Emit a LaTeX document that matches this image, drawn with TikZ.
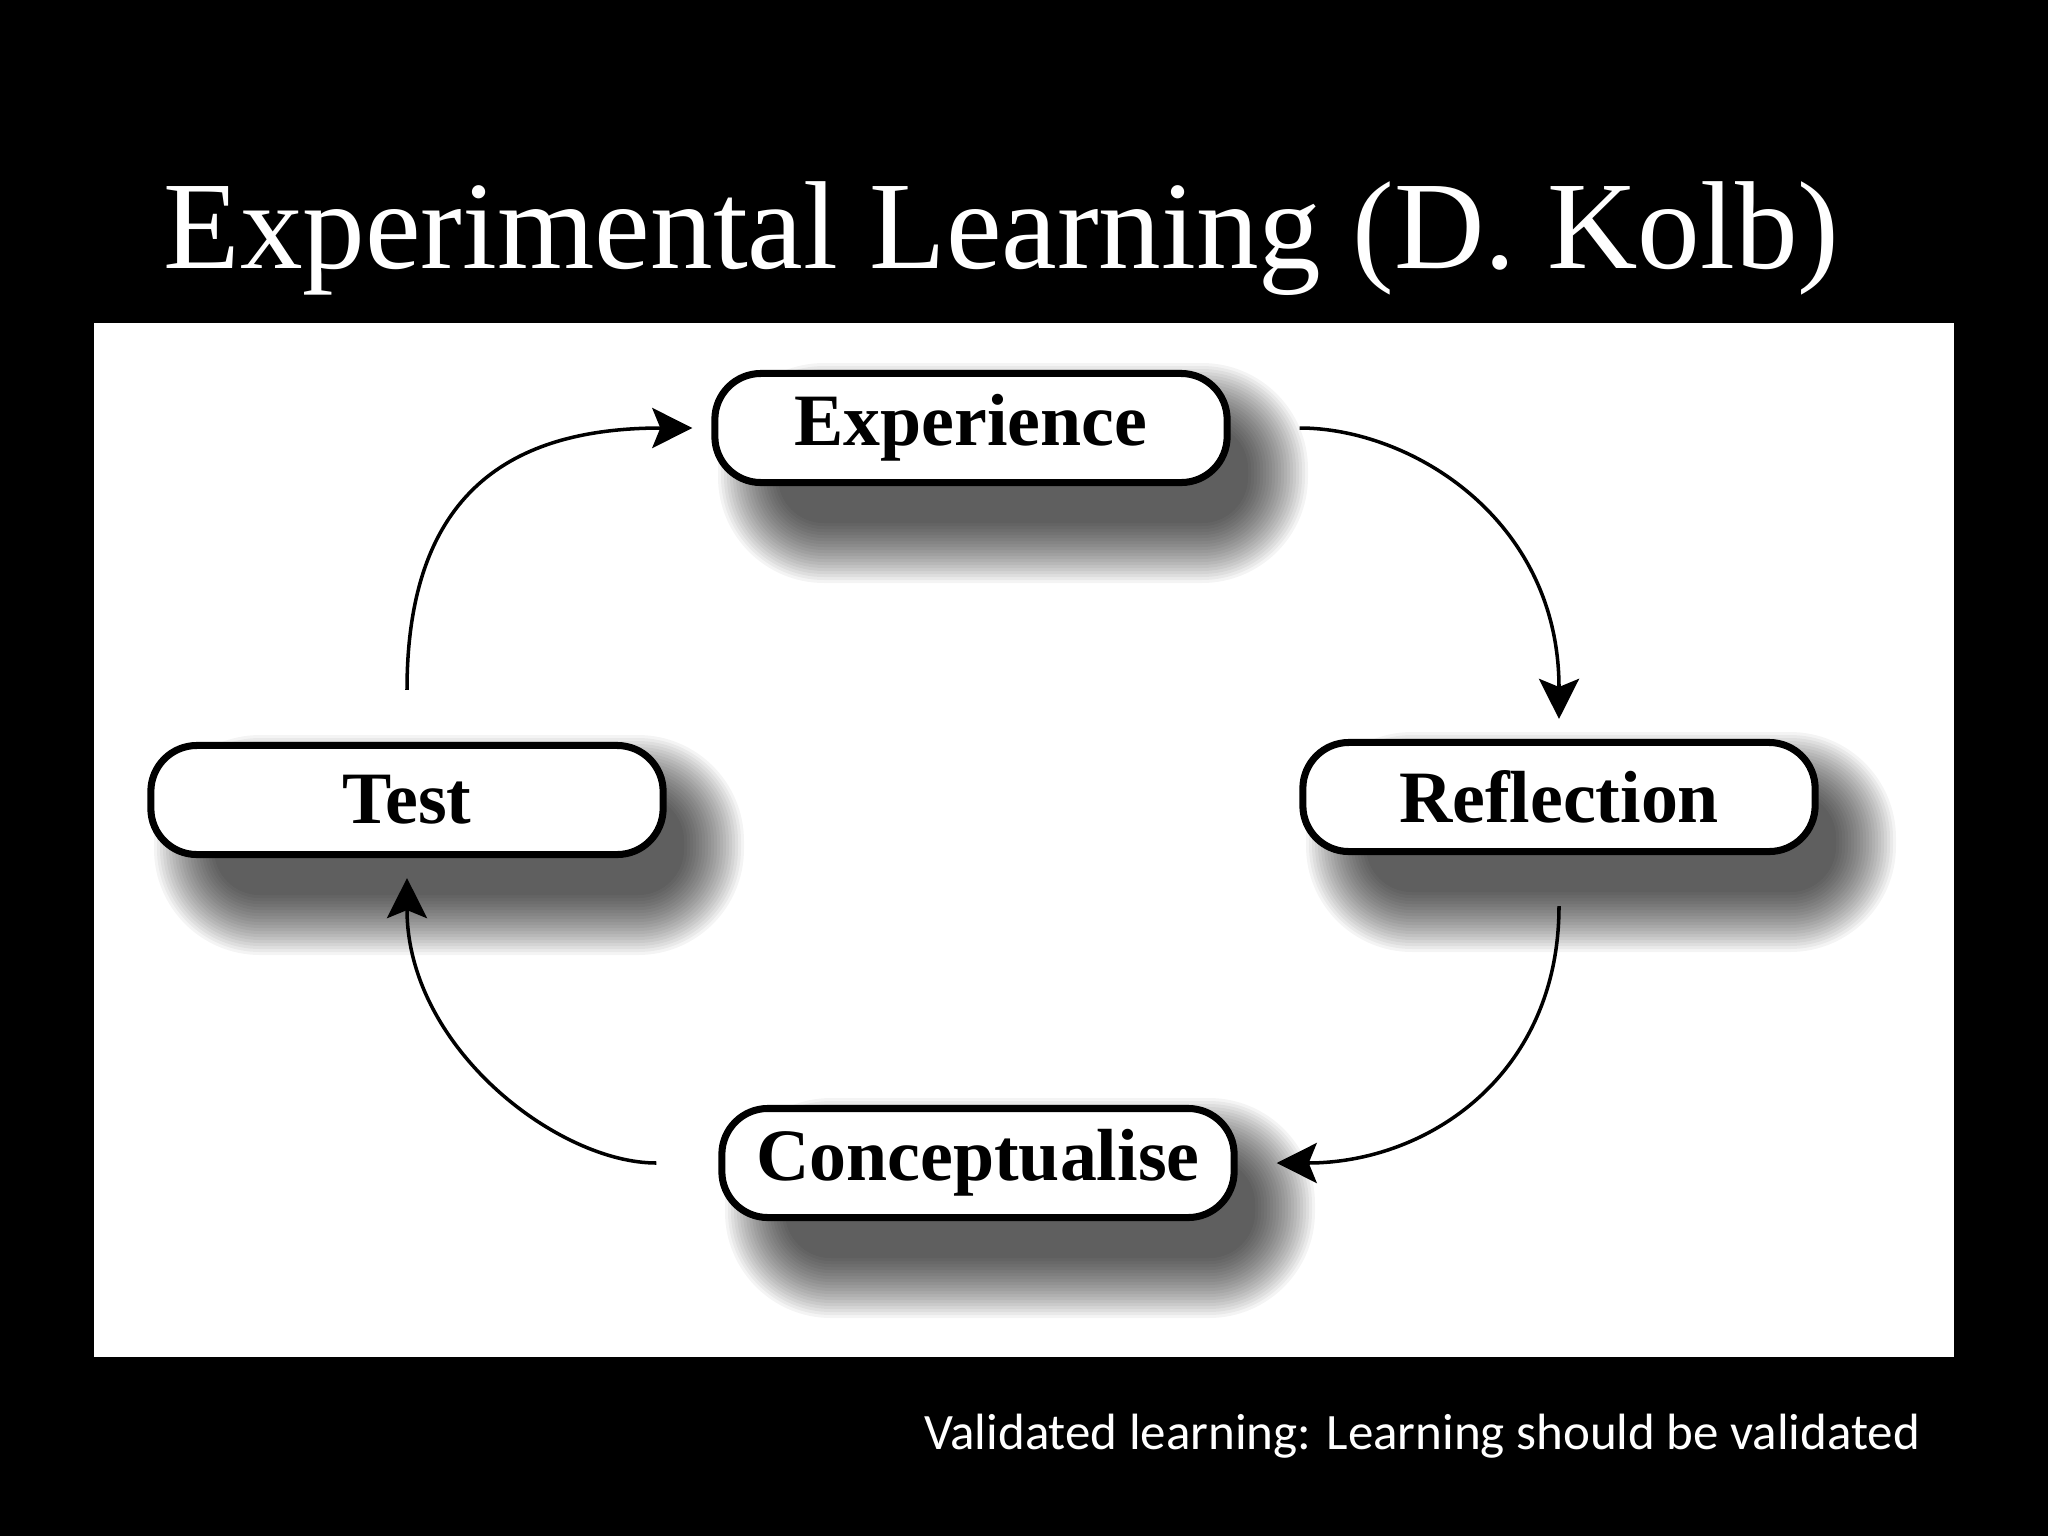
\documentclass[tikz,border=0pt]{standalone}
\usepackage{fontspec}
\setmainfont{Liberation Serif}
\newfontfamily\footfont{Carlito}
\usetikzlibrary{calc,arrows.meta}
\newcommand\stageshadow[1]{%
  \foreach \e in {0,3,...,60}{%
    \pgfmathsetmacro\rr{(46+\e)*0.1}%
    \fill[black,opacity=0.045,rounded corners=\rr mm] ($(#1)+(42-235-\e,45-50-\e)$) rectangle ($(#1)+(42+235+\e,45+50+\e)$);
  }}
\begin{document}
\begin{tikzpicture}[x=0.01cm,y=-0.01cm,
  stage/.style={draw=black, line width=2pt, fill=white, rounded corners=4.6mm,
    minimum width=5.12cm, minimum height=1.09cm, inner sep=0pt,
    font=\fontsize{21}{25}\selectfont\bfseries},
  flow/.style={line width=1pt, -{Stealth[length=11.4pt,width=11.4pt,inset=2.3pt]}},
]
\fill[black] (0,0) rectangle (2048,1536);
\useasboundingbox (0,0) rectangle (2048,1536);
\fill[white] (94,323) rectangle (1954,1357);

\node[anchor=base west, text=white, font=\fontsize{35.6}{40}\selectfont, inner sep=0pt] (title) at (163,268) {Experimental Learning (D. Kolb)};
\node[anchor=base east, text=white, font=\footfont\fontsize{14.5}{17}\selectfont, inner sep=0pt] (foot) at (1921,1449) {Validated learning: Learning should be validated};

\coordinate (cE) at (971,428);
\coordinate (cT) at (407,800);
\coordinate (cR) at (1559,797);
\coordinate (cC) at (978,1163);

\stageshadow{cE}
\stageshadow{cT}
\stageshadow{cR}
\stageshadow{cC}

\node[stage] (E) at (cE) {Experience};
\node[stage] (T) at (cT) {Test};
\node[stage] (R) at (cR) {Reflection};
\node[stage] (C) at (cC) {Conceptualise};

\draw[flow, shorten <=0.52cm, shorten >=0.19cm] (T.north) .. controls +(0,-250) and +(-200,0) .. (E.west);
\draw[flow, shorten <=0.69cm, shorten >=0.20cm] (E.east) .. controls +(180,0) and +(0,-220) .. (R.north);
\draw[flow, shorten <=0.51cm, shorten >=0.39cm] (R.south) .. controls +(0,220) and +(190,0) .. (C.east);
\draw[flow, shorten <=0.62cm, shorten >=0.20cm] (C.west) .. controls +(-160,0) and +(0,190) .. (T.south);
\end{tikzpicture}
\end{document}
